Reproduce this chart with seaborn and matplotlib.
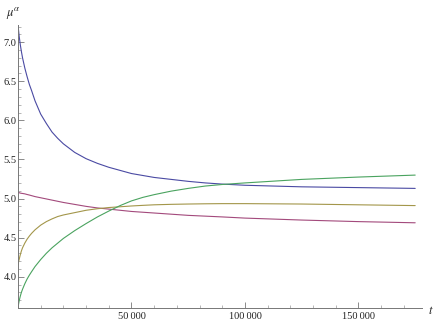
import pandas as pd
import seaborn as sns
import matplotlib.pyplot as plt
import matplotlib.ticker as ticker

# values
t = [0, 250, 500, 1000, 1500, 2000, 3000, 4000, 5000, 6000, 7500, 10000, 12500, 15000,
     17500, 20000, 25000, 30000, 35000, 40000, 45000, 50000, 55000, 60000, 67500, 75000,
     82500, 90000, 100000, 125000, 150000, 175000]
mu_blue = [7.22, 7.15, 7.08, 6.97, 6.88, 6.80, 6.67, 6.56, 6.46, 6.38, 6.25, 6.08, 5.96, 5.85,
           5.77, 5.70, 5.59, 5.51, 5.45, 5.40, 5.36, 5.32, 5.295, 5.27, 5.245, 5.22,
           5.20, 5.185, 5.17, 5.15, 5.14, 5.13]
mu_magenta = [5.08, 5.078, 5.075, 5.07, 5.067, 5.065, 5.06, 5.052, 5.045, 5.037, 5.025, 5.01,
              4.995, 4.98, 4.965, 4.95, 4.925, 4.90, 4.88, 4.865, 4.85, 4.835, 4.825, 4.815,
              4.80, 4.785, 4.775, 4.765, 4.75, 4.725, 4.705, 4.69]
mu_yellow = [4.15, 4.19, 4.22, 4.28, 4.33, 4.37, 4.43, 4.48, 4.52, 4.555, 4.60, 4.66, 4.705,
             4.74, 4.77, 4.79, 4.82, 4.85, 4.87, 4.885, 4.895, 4.905, 4.913, 4.92, 4.926,
             4.93, 4.933, 4.935, 4.935, 4.93, 4.92, 4.91]
mu_green = [3.60, 3.65, 3.69, 3.75, 3.80, 3.84, 3.91, 3.97, 4.02, 4.065, 4.13, 4.22, 4.30,
            4.37, 4.43, 4.49, 4.59, 4.68, 4.765, 4.84, 4.91, 4.97, 5.015, 5.05, 5.095,
            5.13, 5.16, 5.18, 5.20, 5.245, 5.275, 5.30]

series = {"1": mu_blue, "2": mu_magenta, "3": mu_yellow, "4": mu_green}
colors = ["#4a4aa3", "#a34a7c", "#a3964a", "#4aa35f"]

df = pd.concat([pd.DataFrame({"t": t, "mu": v, "curve": k}) for k, v in series.items()],
               ignore_index=True)

sns.set_style("ticks")
plt.rcParams['font.family'] = ['Liberation Serif', 'DejaVu Serif']
plt.rcParams['mathtext.fontset'] = 'stix'

fig = plt.figure(figsize=(4.36, 3.27), dpi=100)
ax = fig.add_axes([18 / 436, 19 / 327, 404 / 436, 283 / 327])

sns.lineplot(data=df, x="t", y="mu", hue="curve", palette=colors, ax=ax,
             linewidth=0.8, legend=False)

ax.set_xlim(0, 178000)
ax.set_ylim(3.6, 7.22)
ax.set_xlabel("")
ax.set_ylabel("")

for side in ["top", "right"]:
    ax.spines[side].set_visible(False)
for side in ["left", "bottom"]:
    ax.spines[side].set_color("#777777")
    ax.spines[side].set_linewidth(0.7)

ax.xaxis.set_major_locator(ticker.MultipleLocator(50000))
ax.xaxis.set_minor_locator(ticker.MultipleLocator(10000))
ax.yaxis.set_major_locator(ticker.MultipleLocator(0.5))
ax.yaxis.set_minor_locator(ticker.MultipleLocator(0.1))


def fmt_x(v, pos):
    if v <= 0:
        return ""
    return f"{int(v):,}".replace(",", "\u2009")


def fmt_y(v, pos):
    if v < 3.9:
        return ""
    return f"{v:.1f}"


ax.xaxis.set_major_formatter(ticker.FuncFormatter(fmt_x))
ax.yaxis.set_major_formatter(ticker.FuncFormatter(fmt_y))
ax.tick_params(which="major", direction="in", length=4, width=0.6, color="#777777",
               labelsize=7.5, labelcolor="#222222", pad=3)
ax.tick_params(which="minor", direction="in", length=2.5, width=0.5, color="#999999")
ax.tick_params(axis="y", pad=1)

fig.text(6 / 436, 1 - 16 / 327, r"$\mu^{\alpha}$", fontsize=9)
fig.text(428 / 436, 1 - 314 / 327, r"$t$", fontsize=9)

plt.savefig("out.png", dpi=100)
